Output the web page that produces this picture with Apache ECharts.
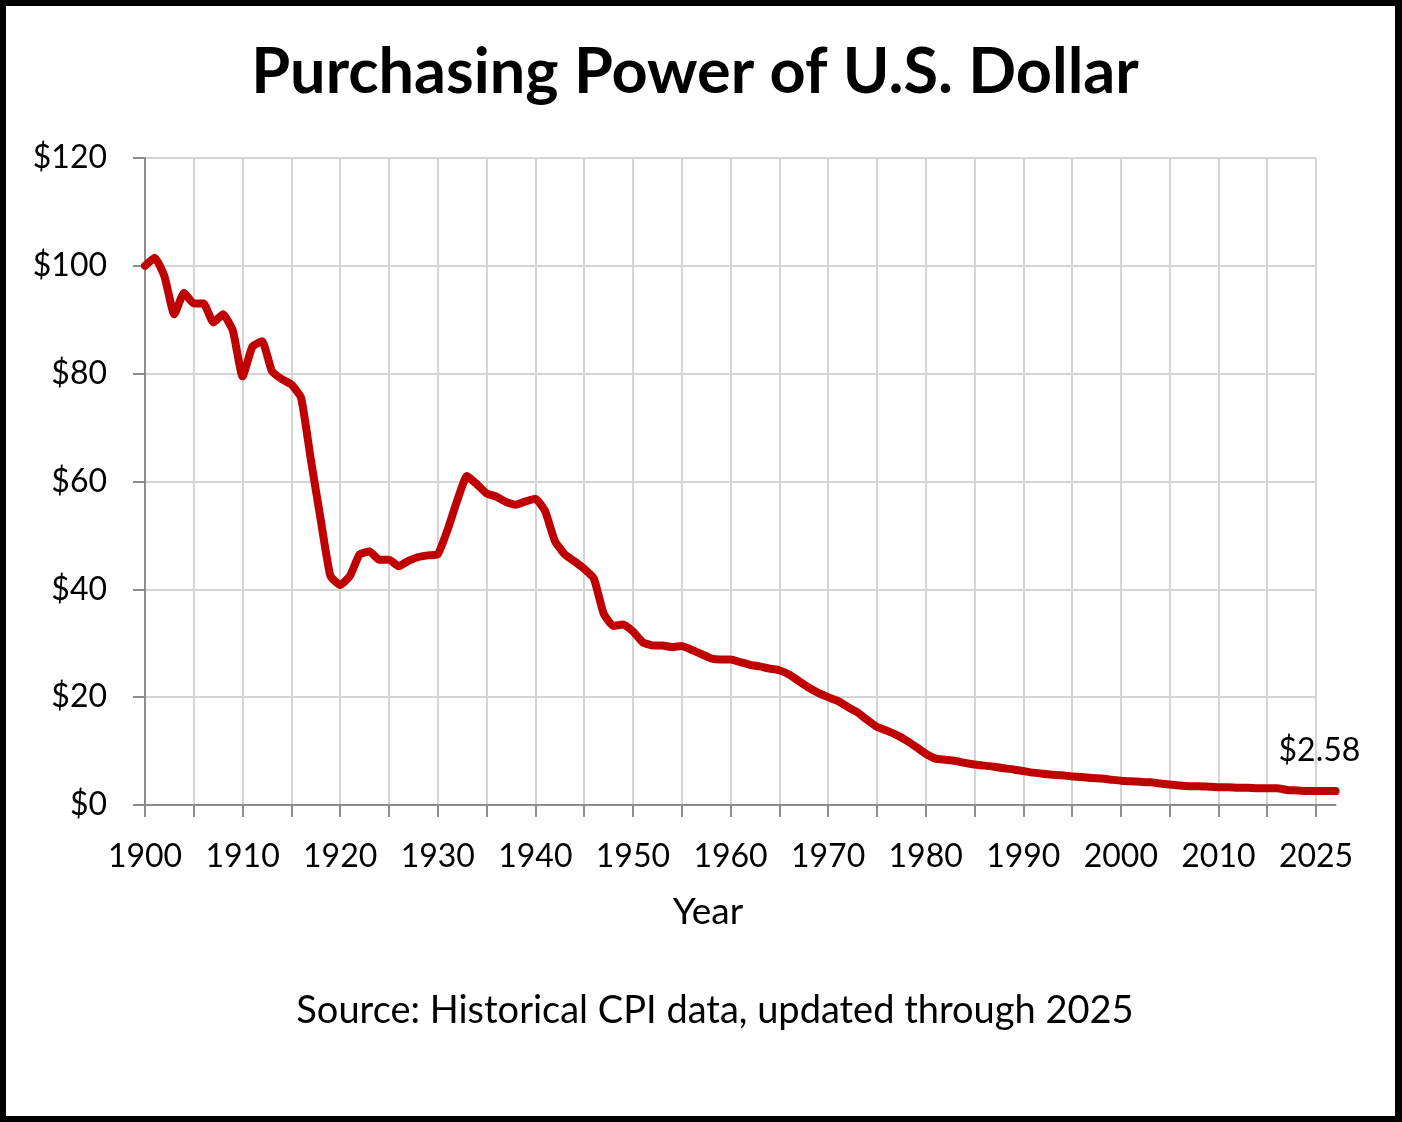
<!DOCTYPE html>
<html>
<head>
<meta charset="utf-8">
<title>Purchasing Power of U.S. Dollar</title>
<script src="https://cdn.jsdelivr.net/npm/echarts@6/dist/echarts.min.js"></script>
<style>
    html, body { margin: 0; padding: 0; background: #fff; }
    #frame {
        width: 1402px; height: 1122px;
        box-sizing: border-box;
        border: 6px solid #000;
        border-right-width: 7px;
        background: #fff;
    }
    #chart { width: 100%; height: 100%; }
</style>
</head>
<body>
<div id="frame"><div id="chart"></div></div>
<script>
'use strict';

/*======== 数据 =========== */
var years = [
    1900, 1901, 1902, 1903, 1904, 1905, 1906, 1907, 1908, 1909,
    1910, 1911, 1912, 1913, 1914, 1915, 1916, 1917, 1918, 1919,
    1920, 1921, 1922, 1923, 1924, 1925, 1926, 1927, 1928, 1929,
    1930, 1931, 1932, 1933, 1934, 1935, 1936, 1937, 1938, 1939,
    1940, 1941, 1942, 1943, 1944, 1945, 1946, 1947, 1948, 1949,
    1950, 1951, 1952, 1953, 1954, 1955, 1956, 1957, 1958, 1959,
    1960, 1961, 1962, 1963, 1964, 1965, 1966, 1967, 1968, 1969,
    1970, 1971, 1972, 1973, 1974, 1975, 1976, 1977, 1978, 1979,
    1980, 1981, 1982, 1983, 1984, 1985, 1986, 1987, 1988, 1989,
    1990, 1991, 1992, 1993, 1994, 1995, 1996, 1997, 1998, 1999,
    2000, 2001, 2002, 2003, 2004, 2005, 2006, 2007, 2008, 2009,
    2010, 2011, 2012, 2013, 2014, 2015, 2016, 2017, 2018, 2019,
    2020, 2021, 2022
];
// value of $100 (1900 dollars)
var values = [
    100, 101.5, 98, 91, 95, 93, 93, 89.5, 91, 88,
    79.5, 85, 86, 80.5, 79, 78, 75.5, 64, 53, 42.5,
    40.8, 42.5, 46.5, 47, 45.5, 45.5, 44.3, 45.3, 46, 46.3,
    46.5, 51, 56.5, 61, 59.5, 57.8, 57.2, 56.2, 55.7, 56.3,
    56.8, 54.5, 49, 46.5, 45.2, 43.8, 42, 35.5, 33.2, 33.5,
    32.2, 30.2, 29.6, 29.6, 29.3, 29.5, 28.8, 28, 27.2, 27,
    27, 26.5, 26, 25.7, 25.3, 25, 24.2, 23, 21.8, 20.8,
    20, 19.3, 18.2, 17.2, 15.8, 14.5, 13.8, 13, 12, 10.8,
    9.5, 8.6, 8.4, 8.2, 7.8, 7.5, 7.3, 7.1, 6.8, 6.6,
    6.3, 6.0, 5.8, 5.6, 5.5, 5.3, 5.2, 5.0, 4.9, 4.7,
    4.5, 4.4, 4.3, 4.2, 4.0, 3.8, 3.6, 3.5, 3.5, 3.4,
    3.3, 3.3, 3.2, 3.2, 3.1, 3.1, 3.1, 2.8, 2.7, 2.6,
    2.6, 2.6, 2.58
];
// x 轴刻度标签 (位置 -> 文字)
var xLabelYears = [1900, 1910, 1920, 1930, 1940, 1950, 1960, 1970, 1980, 1990, 2000, 2010, 2020];
var xLabelText = ['1900', '1910', '1920', '1930', '1940', '1950', '1960', '1970', '1980', '1990', '2000', '2010', '2025'];
var yTicks = [0, 20, 40, 60, 80, 100, 120];
/*======== / 数据 =========== */

var chart = echarts.init(document.getElementById('chart'));
var font = 'Lato';
var axisGray = '#8c8c8c';
var gridGray = '#d4d4d4';

// 网格 0: 网格线/刻度 (1900-2020); 网格 1: 折线 (1900-2022, 轴线稍长)
var pxPerYear = (1316 - 145) / (xLabelYears[xLabelYears.length - 1] - years[0]);
var lineRight = 1395 - (145 + pxPerYear * (years[years.length - 1] - years[0]));

var option = {
    animation: false,
    backgroundColor: '#fff',
    textStyle: { fontFamily: font },
    grid: [
        { left: 139, right: 79, top: 152, bottom: 311 },
        { left: 139, right: lineRight, top: 152, bottom: 311 }
    ],
    graphic: [
        {
            type: 'text', x: 689, y: 67,
            style: {
                text: 'Purchasing Power of U.S. Dollar',
                font: 'bold 63px ' + font,
                fill: '#000',
                align: 'center', verticalAlign: 'middle'
            }
        },
        {
            type: 'text', x: 702, y: 906,
            style: {
                text: 'Year', font: '37px ' + font, fill: '#000',
                align: 'center', verticalAlign: 'middle'
            }
        },
        {
            type: 'text', x: 709, y: 1005,
            style: {
                text: 'Source: Historical CPI data, updated through 2025',
                font: '38px ' + font, fill: '#000',
                align: 'center', verticalAlign: 'middle'
            }
        }
    ],
    xAxis: [
        {
            gridIndex: 0,
            type: 'value',
            min: 1900,
            max: 2020,
            interval: 5,
            axisLine: { show: false },
            axisTick: { show: true, length: 12, lineStyle: { color: axisGray, width: 2 } },
            axisLabel: {
                margin: 36,
                fontSize: 32,
                color: '#000',
                fontFamily: font,
                showMinLabel: true,
                showMaxLabel: true,
                formatter: function (v) {
                    var i = xLabelYears.indexOf(v);
                    return i >= 0 ? xLabelText[i] : '';
                }
            },
            splitLine: { show: true, lineStyle: { color: gridGray, width: 2 } }
        },
        {
            gridIndex: 1,
            type: 'value',
            min: years[0],
            max: years[years.length - 1],
            axisLine: { show: true, onZero: false, lineStyle: { color: axisGray, width: 2 } },
            axisTick: { show: false },
            axisLabel: { show: false },
            splitLine: { show: false }
        }
    ],
    yAxis: [
        {
            gridIndex: 0,
            type: 'value',
            min: yTicks[0],
            max: yTicks[yTicks.length - 1],
            interval: 20,
            axisLine: { show: true, lineStyle: { color: axisGray, width: 2 } },
            axisTick: { show: true, length: 12, lineStyle: { color: axisGray, width: 2 } },
            axisLabel: {
                margin: 38,
                fontSize: 32,
                color: '#000',
                fontFamily: font,
                formatter: function (v) { return '$' + v; }
            },
            splitLine: { show: true, lineStyle: { color: gridGray, width: 2 } }
        },
        {
            gridIndex: 1,
            type: 'value',
            min: yTicks[0],
            max: yTicks[yTicks.length - 1],
            show: false
        }
    ],
    series: [
        {
            name: 'Purchasing Power',
            type: 'line',
            xAxisIndex: 1,
            yAxisIndex: 1,
            showSymbol: false,
            smooth: 0.15,
            data: years.map(function (y, i) { return [y, values[i]]; }),
            lineStyle: { color: '#c00000', width: 8, cap: 'round', join: 'round' },
            itemStyle: { color: '#c00000' },
            endLabel: {
                show: true,
                distance: 0,
                offset: [-57, -40],
                fontSize: 32,
                fontFamily: font,
                color: '#000',
                formatter: function (p) { return '$' + p.value[1].toFixed(2); }
            },
            z: 3
        }
    ]
};
chart.setOption(option);
</script>
</body>
</html>
